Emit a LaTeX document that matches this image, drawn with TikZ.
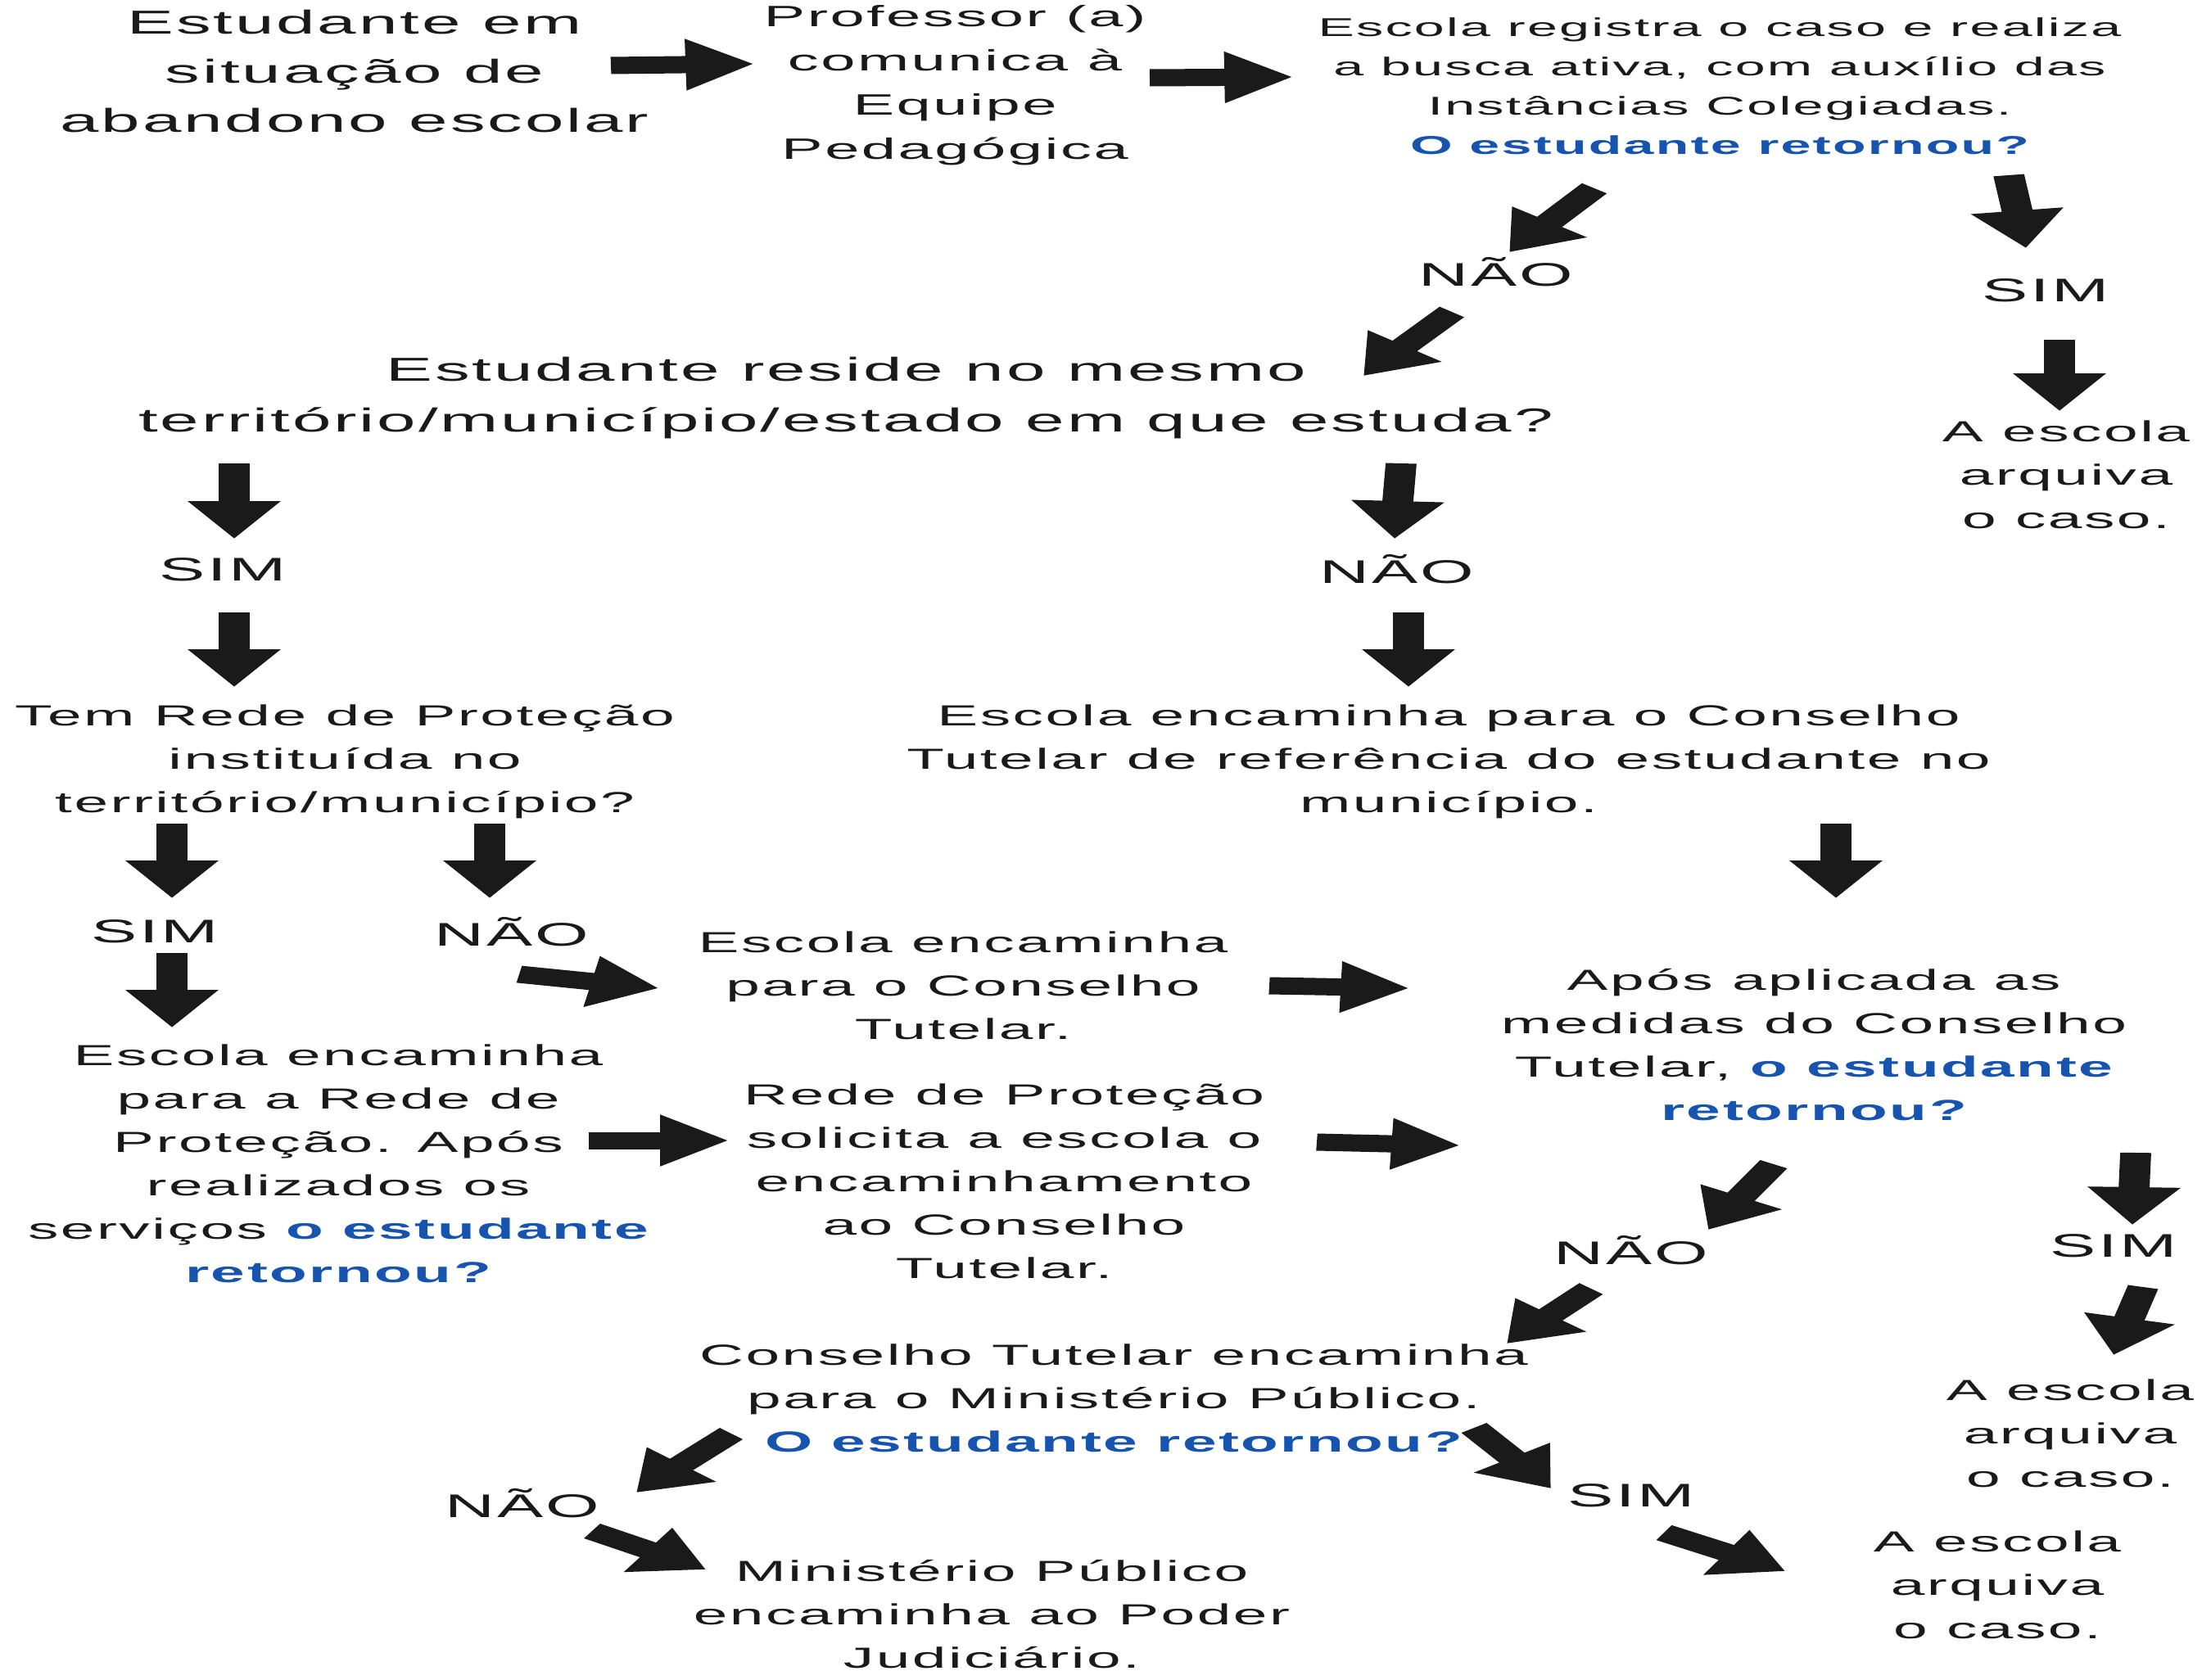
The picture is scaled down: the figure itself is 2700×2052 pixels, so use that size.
\documentclass[tikz,border=0pt]{standalone}
\usepackage{fontspec}
\setmainfont{Liberation Sans}[LetterSpace=4, FakeStretch=1.17]
\usetikzlibrary{arrows.meta}
\definecolor{qblue}{RGB}{22,84,176}
\definecolor{ink}{HTML}{1A1A1A}
\newcommand\qb[1]{\textcolor{qblue}{\bfseries #1}}
\tikzset{
  txt/.style={align=center, inner sep=0pt, text=ink},
  bigtxt/.style={txt, font=\fontsize{40.5}{60}\selectfont},
  proftxt/.style={txt, font=\fontsize{36}{54}\selectfont},
  smalltxt/.style={txt, font=\fontsize{31.5}{48}\selectfont},
  midtxt/.style={txt, font=\fontsize{35.5}{53}\selectfont},
  lbl/.style={txt, font=\fontsize{40}{48}\selectfont},
  sarrow/.style={draw=ink, line width=21pt, line cap=butt,
    -{Triangle[length=46pt,width=60pt]}},
}
\begin{document}
\begin{tikzpicture}[x=1pt,y=-1pt]
\fill[white] (0,0) rectangle (2700,2052);
\useasboundingbox (0,0) rectangle (2700,2052);
\begin{scope}[transform canvas={xscale=1.8}, x=0.5555556pt, y=-1pt]
% text nodes
\node[bigtxt] (n1) at (433,87) {Estudante em\\situação de\\abandono escolar};
\node[proftxt] (n2) at (1166,104) {Professor (a)\\comunica à\\Equipe\\Pedagógica};
\node[smalltxt] (n3) at (2100,105) {Escola registra o caso e realiza\\a busca ativa, com auxílio das\\Instâncias Colegiadas.\\\qb{O estudante retornou?}};
\node[lbl] (l1) at (1827,332) {NÃO};
\node[lbl] (l2) at (2498,355) {SIM};
\node[midtxt] (n4) at (2523,580) {A escola\\arquiva\\o caso.};
\node[bigtxt, font=\fontsize{40.5}{62}\selectfont] (n5) at (1033,486) {Estudante reside no mesmo\\território/município/estado em que estuda?};
\node[lbl] (l3) at (272,696) {SIM};
\node[lbl] (l4) at (1706,695) {NÃO};
\node[midtxt] (n6) at (421,930) {Tem Rede de Proteção\\instituída no\\território/município?};
\node[midtxt] (n7) at (1769,930) {Escola encaminha para o Conselho\\Tutelar de referência do estudante no\\município.};
\node[lbl] (l5) at (189,1138) {SIM};
\node[lbl] (l6) at (625,1138) {NÃO};
\node[midtxt] (n8) at (1176,1204) {Escola encaminha\\para o Conselho\\Tutelar.};
\node[midtxt] (n9) at (2215,1276) {Após aplicada as\\medidas do Conselho\\Tutelar, \qb{o estudante}\\\qb{retornou?}};
\node[midtxt] (n10) at (413,1421) {Escola encaminha\\para a Rede de\\Proteção. Após\\realizados os\\serviços \qb{o estudante}\\\qb{retornou?}};
\node[midtxt] (n11) at (1226,1443) {Rede de Proteção\\solicita a escola o\\encaminhamento\\ao Conselho\\Tutelar.};
\node[lbl] (l7) at (1992,1527) {NÃO};
\node[lbl] (l8) at (2581,1522) {SIM};
\node[midtxt] (n12) at (1360,1708) {Conselho Tutelar encaminha\\para o Ministério Público.\\\qb{O estudante retornou?}};
\node[midtxt] (n13) at (2528,1751) {A escola\\arquiva\\o caso.};
\node[lbl] (l9) at (638,1836) {NÃO};
\node[lbl] (l10) at (1992,1827) {SIM};
\node[midtxt] (n14) at (1211,1972) {Ministério Público\\encaminha ao Poder\\Judiciário.};
\node[midtxt] (n15) at (2439,1936) {A escola\\arquiva\\o caso.};
% arrow end points
\coordinate (a1s) at (746,80);   \coordinate (a1e) at (920,78);
\coordinate (a2s) at (1404,95);  \coordinate (a2e) at (1578,94);
\coordinate (a3s) at (1947,230); \coordinate (a3e) at (1843,308);
\coordinate (a4s) at (1773,381); \coordinate (a4e) at (1665,459);
\coordinate (a5s) at (2453,214); \coordinate (a5e) at (2474,303);
\coordinate (a6s) at (2515,415); \coordinate (a6e) at (2515,502);
\coordinate (a7s) at (286,566);  \coordinate (a7e) at (286,658);
\coordinate (a8s) at (1711,566); \coordinate (a8e) at (1703,658);
\coordinate (a9s) at (286,748);  \coordinate (a9e) at (286,839);
\coordinate (a10s) at (1720,748); \coordinate (a10e) at (1720,839);
\coordinate (a11s) at (210,1006); \coordinate (a11e) at (210,1097);
\coordinate (a12s) at (598,1006); \coordinate (a12e) at (598,1097);
\coordinate (a13s) at (2242,1006); \coordinate (a13e) at (2242,1097);
\coordinate (a14s) at (210,1164); \coordinate (a14e) at (210,1255);
\coordinate (a15s) at (634,1190); \coordinate (a15e) at (804,1207);
\coordinate (a16s) at (1550,1204); \coordinate (a16e) at (1720,1207);
\coordinate (a17s) at (719,1393); \coordinate (a17e) at (889,1393);
\coordinate (a18s) at (1608,1395); \coordinate (a18e) at (1782,1399);
\coordinate (a19s) at (2166,1422); \coordinate (a19e) at (2086,1502);
\coordinate (a20s) at (2608,1408); \coordinate (a20e) at (2604,1496);
\coordinate (a21s) at (1943,1574); \coordinate (a21e) at (1840,1641);
\coordinate (a22s) at (2617,1572); \coordinate (a22e) at (2581,1655);
\coordinate (a23s) at (893,1751); \coordinate (a23e) at (777,1823);
\coordinate (a24s) at (1800,1744); \coordinate (a24e) at (1894,1818);
\coordinate (a25s) at (723,1870); \coordinate (a25e) at (862,1917);
\coordinate (a26s) at (2032,1872); \coordinate (a26e) at (2180,1919);
\foreach \i in {1,...,26} {\draw[sarrow] (a\i s) -- (a\i e);}
\end{scope}
\end{tikzpicture}
\end{document}
